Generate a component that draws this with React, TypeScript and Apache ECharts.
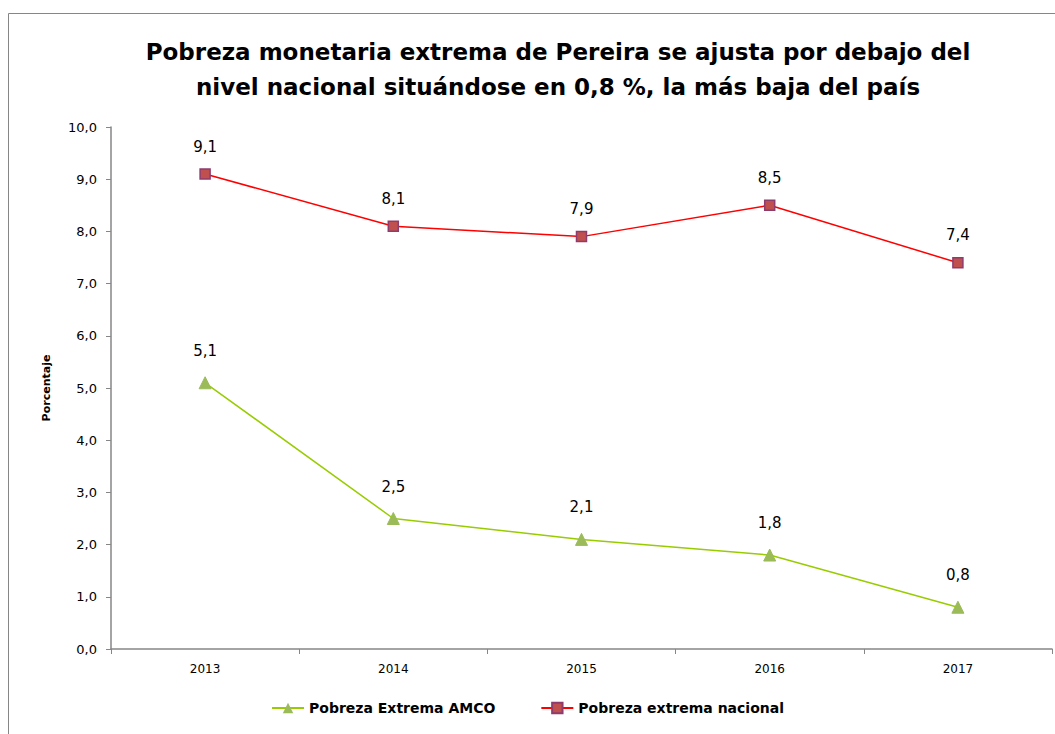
import React, { useEffect, useRef } from "react";
import * as echarts from "echarts";

const years = ["2013", "2014", "2015", "2016", "2017"];
const amco = [5.1, 2.5, 2.1, 1.8, 0.8];
const nacional = [9.1, 8.1, 7.9, 8.5, 7.4];
const titleText = "Pobreza monetaria extrema de Pereira se ajusta por debajo del\nnivel nacional situándose en 0,8 %, la más baja del país";
const seriesNames = ["Pobreza Extrema AMCO", "Pobreza extrema nacional"];

const FONT = "'DejaVu Sans', sans-serif";
const fmt = (v: number) => v.toFixed(1).replace(".", ",");

export default function App() {
  const ref = useRef<HTMLDivElement>(null);
  useEffect(() => {
    document.body.style.margin = "0";
    const chart = echarts.init(ref.current!, undefined, { renderer: "svg" });
    chart.setOption({
      animation: false,
      backgroundColor: "#fff",
      textStyle: { fontFamily: FONT },
      title: {
        text: titleText,
        left: 553,
        textAlign: "center",
        top: 29,
        textStyle: { fontFamily: FONT, fontSize: 23, fontWeight: "bold", color: "#000", lineHeight: 35 },
      },
      graphic: [
        {
          type: "rect",
          shape: { x: 8.5, y: 13.5, width: 1060, height: 740 },
          style: { fill: "none", stroke: "#868686", lineWidth: 1 },
          silent: true,
        },
      ],
      legend: {
        bottom: 14,
        left: "center",
        itemGap: 45,
        itemWidth: 32,
        itemHeight: 13,
        textStyle: { fontFamily: FONT, fontSize: 14, fontWeight: "bold", color: "#000" },
        data: seriesNames,
      },
      grid: { left: 111, right: 3, top: 127, bottom: 85, containLabel: false },
      xAxis: {
        type: "category",
        data: years,
        boundaryGap: true,
        axisLine: { lineStyle: { color: "#868686", width: 1.5 } },
        axisTick: { show: true, length: 5, lineStyle: { color: "#868686" } },
        axisLabel: { fontFamily: FONT, fontSize: 12, color: "#000", margin: 14 },
      },
      yAxis: {
        type: "value",
        min: 0,
        max: 10,
        interval: 1,
        name: "Porcentaje",
        nameLocation: "middle",
        nameGap: 59,
        nameRotate: 90,
        nameTextStyle: { fontFamily: FONT, fontSize: 11, fontWeight: "bold", color: "#000" },
        axisLine: { show: true, lineStyle: { color: "#868686", width: 1.5 } },
        axisTick: { show: true, length: 5, lineStyle: { color: "#868686" } },
        splitLine: { show: false },
        axisLabel: { fontFamily: FONT, fontSize: 13, color: "#000", margin: 14, formatter: (v: number) => fmt(v) },
      },
      series: [
        {
          name: seriesNames[0],
          type: "line",
          data: amco,
          symbol: "triangle",
          symbolSize: 12,
          itemStyle: { color: "#9BBB59", borderColor: "#9BBB59" },
          lineStyle: { color: "#99CC00", width: 1.5 },
          label: { show: true, position: "top", distance: 18, fontFamily: FONT, fontSize: 15, color: "#000", formatter: (p: any) => fmt(p.value) },
        },
        {
          name: seriesNames[1],
          type: "line",
          data: nacional,
          symbol: "rect",
          symbolSize: 10,
          itemStyle: { color: "#C0504D", borderColor: "#8E3B6E", borderWidth: 1.5 },
          lineStyle: { color: "#FF0000", width: 1.5 },
          label: { show: true, position: "top", distance: 14, fontFamily: FONT, fontSize: 15, color: "#000", formatter: (p: any) => fmt(p.value) },
        },
      ],
    });
    return () => chart.dispose();
  }, []);
  return <div ref={ref} style={{ width: 1055, height: 734, overflow: "hidden" }} />;
}
